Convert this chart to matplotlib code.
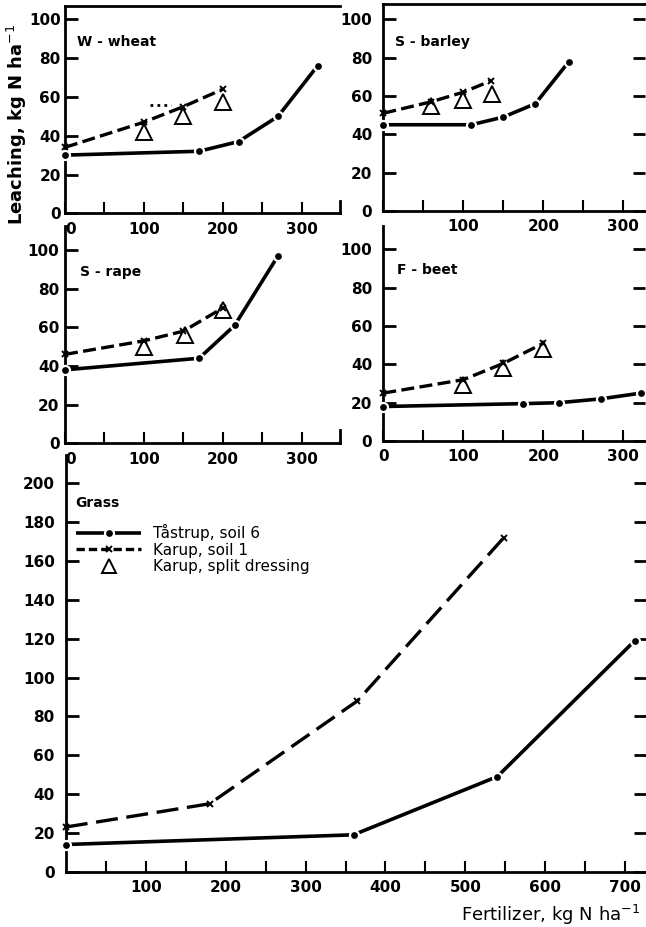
import matplotlib
matplotlib.use('Agg')
import matplotlib.pyplot as plt
from matplotlib.lines import Line2D


FIG_W, FIG_H = 646, 927

# W-wheat
wheat_tastrup_x = [0, 170, 220, 270, 320]
wheat_tastrup_y = [30, 32, 37, 50, 76]
wheat_karup_x = [0, 100, 150, 200]
wheat_karup_y = [34, 47, 55, 64]
wheat_split_x = [100, 150, 200]
wheat_split_y = [42, 50, 57.5]
wheat_dotted_x = [108, 134]
wheat_dotted_y = [56, 56]

# S-barley
barley_tastrup_x = [0, 110, 150, 190, 232]
barley_tastrup_y = [45, 45, 49, 56, 78]
barley_karup_x = [0, 60, 100, 135]
barley_karup_y = [51, 57, 62, 68]
barley_split_x = [60, 100, 136]
barley_split_y = [55, 58, 61]

# S-rape
rape_tastrup_x = [0, 170, 215, 270]
rape_tastrup_y = [38, 44, 61, 97]
rape_karup_x = [0, 100, 150, 200]
rape_karup_y = [46, 53, 58, 70]
rape_split_x = [100, 152, 200]
rape_split_y = [50, 56, 69]

# F-beet
beet_tastrup_x = [0, 175, 220, 272, 322]
beet_tastrup_y = [18, 19.5, 20, 22, 25]
beet_karup_x = [0, 100, 150, 200]
beet_karup_y = [25, 32, 40.5, 51]
beet_split_x = [100, 150, 200]
beet_split_y = [29, 38, 48]

# Grass
grass_tastrup_x = [0, 360, 540, 712]
grass_tastrup_y = [14, 19, 49, 119]
grass_karup_x = [0, 180, 365, 548]
grass_karup_y = [23, 35, 88, 172]

SOLID = dict(color='k', lw=2.6, marker='o', ms=6.5, mfc='k', mec='white',
             mew=1.6, solid_capstyle='butt', zorder=3, clip_on=False)
DASHED = dict(color='k', lw=2.4, ls=(0, (3.9, 1.6)), marker='x', ms=5,
              mew=1.4, mec='k', zorder=3, clip_on=False)
TRIANGLE = dict(color='k', ls='None', marker='^', ms=11, mfc='none',
                mew=1.4, zorder=2, clip_on=False)

TICK_FONT = dict(fontsize=11, fontweight='bold')
LABEL_FONT = dict(fontsize=10, fontweight='bold', va='center')


def add_axes(fig, left, right, zero, top):
    ax = fig.add_axes([left / FIG_W, 1 - zero / FIG_H,
                       (right - left) / FIG_W, (zero - top) / FIG_H])
    ax.patch.set_visible(False)
    return ax


def style_axes(ax, xlim, ylim, xmajor, xminor, ymajor, ypad, top=False,
               right_ticks=False, left_zero=False, xlabels=None):
    ax.set_xlim(*xlim)
    ax.set_ylim(*ylim)
    for side in ['left', 'bottom', 'top', 'right']:
        ax.spines[side].set_linewidth(2)
    ax.spines['right'].set_visible(False)
    ax.spines['top'].set_visible(top)
    if xlabels is None:
        xlabels = [str(v) for v in xmajor]
    ax.set_xticks(xmajor, labels=xlabels, **TICK_FONT)
    ax.set_xticks(xminor, minor=True)
    ax.set_yticks(ymajor, labels=[str(v) for v in ymajor], **TICK_FONT)
    ax.tick_params(axis='x', which='both', direction='in', length=8,
                   width=1.5, pad=6, top=False)
    ax.tick_params(axis='y', which='both', direction='in', length=9,
                   width=2, pad=ypad, right=right_ticks)
    if left_zero:
        ax.get_xticklabels()[0].set_horizontalalignment('left')


def main():
    fig = plt.figure(figsize=(FIG_W / 100, FIG_H / 100), dpi=100)

    # W-wheat
    ax = add_axes(fig, 65, 340, 213.3, 6)
    ax.plot(wheat_tastrup_x, wheat_tastrup_y, **SOLID)
    ax.plot(wheat_karup_x, wheat_karup_y, **DASHED)
    ax.plot(wheat_split_x, wheat_split_y, **TRIANGLE)
    ax.plot(wheat_dotted_x, wheat_dotted_y, color='k', lw=2, ls=(0, (1, 1.5)))
    style_axes(ax, (0, 348.5), (0, 106.9), [0, 100, 200, 300], [50, 150, 250],
               list(range(0, 101, 20)), 3, top=True, left_zero=True)
    # little corner stub of the frame at the lower right
    ax.plot([1, 1], [0, 0.06], transform=ax.transAxes, color='k', lw=2,
            clip_on=False)
    ax.text(0.044, 0.826, 'W - wheat', transform=ax.transAxes, **LABEL_FONT)

    # S-barley
    ax = add_axes(fig, 383.3, 645, 211, 4)
    ax.plot(barley_tastrup_x, barley_tastrup_y, **SOLID)
    ax.plot(barley_karup_x, barley_karup_y, **DASHED)
    ax.plot(barley_split_x, barley_split_y, **TRIANGLE)
    style_axes(ax, (0, 327), (0, 108), [0, 100, 200, 300], [50, 150, 250],
               list(range(0, 101, 20)), 8, top=True, right_ticks=True,
               xlabels=['', '100', '200', '300'])
    ax.text(0.046, 0.816, 'S - barley', transform=ax.transAxes, **LABEL_FONT)

    # S-rape
    ax = add_axes(fig, 65, 340, 443.3, 226)
    ax.plot(rape_tastrup_x, rape_tastrup_y, **SOLID)
    ax.plot(rape_karup_x, rape_karup_y, **DASHED)
    ax.plot(rape_split_x, rape_split_y, **TRIANGLE)
    style_axes(ax, (0, 348.5), (0, 112.4), [0, 100, 200, 300], [50, 150, 250],
               list(range(0, 101, 20)), 4, left_zero=True)
    ax.plot([1, 1], [0, 0.06], transform=ax.transAxes, color='k', lw=2,
            clip_on=False)
    ax.text(0.055, 0.788, 'S - rape', transform=ax.transAxes, **LABEL_FONT)

    # F-beet
    ax = add_axes(fig, 383.3, 645, 441, 226)
    ax.plot(beet_tastrup_x, beet_tastrup_y, **SOLID)
    ax.plot(beet_karup_x, beet_karup_y, **DASHED)
    ax.plot(beet_split_x, beet_split_y, **TRIANGLE)
    style_axes(ax, (0, 327), (0, 112.2), [0, 100, 200, 300], [50, 150, 250],
               list(range(0, 101, 20)), 8, right_ticks=True)
    ax.text(0.052, 0.795, 'F - beet', transform=ax.transAxes, **LABEL_FONT)

    # Grass
    ax = add_axes(fig, 65.8, 646, 871.7, 455)
    grass_dashed = dict(DASHED, ls=(0, (6.6, 2.6)))
    ax.plot(grass_tastrup_x, grass_tastrup_y, **SOLID)
    ax.plot(grass_karup_x, grass_karup_y, **grass_dashed)
    style_axes(ax, (0, 726), (0, 214.6), list(range(100, 701, 100)),
               list(range(50, 701, 100)), list(range(0, 201, 20)), 8,
               right_ticks=True)
    ax.text(0.016, 0.885, 'Grass', transform=ax.transAxes, **LABEL_FONT)
    handles = [
        Line2D([], [], **dict(SOLID, clip_on=True)),
        Line2D([], [], **dict(DASHED, clip_on=True, ls=(0, (2.5, 1.2)))),
        Line2D([], [], **dict(TRIANGLE, clip_on=True, ms=10)),
    ]
    ax.legend(handles, ['Tåstrup, soil 6', 'Karup, soil 1',
                        'Karup, split dressing'],
              loc='upper left', bbox_to_anchor=(0.0, 0.86), frameon=False,
              fontsize=11, handlelength=4.2, handletextpad=0.8,
              labelspacing=0.1, numpoints=1, borderpad=0.2)

    fig.text(17 / FIG_W, 1 - 124 / FIG_H, r'Leaching, kg N ha$^{-1}$',
             rotation=90, ha='center', va='center', fontsize=13,
             fontweight='bold')
    fig.text(640 / FIG_W, 1 - 915 / FIG_H, r'Fertilizer, kg N ha$^{-1}$',
             ha='right', va='center', fontsize=13)

    fig.savefig('out.png', dpi=100)


if __name__ == '__main__':
    main()
